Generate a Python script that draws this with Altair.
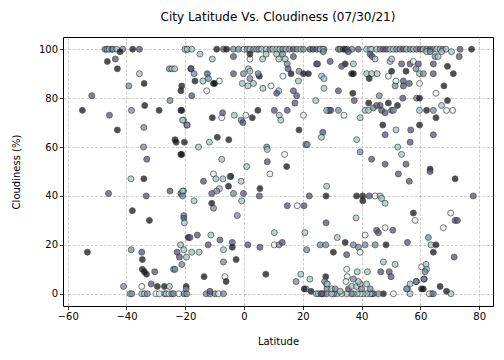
import altair as alt
import pandas as pd

TITLE = "City Latitude Vs. Cloudiness (07/30/21)"
X_TICKS = [-60, -40, -20, 0, 20, 40, 60, 80]
Y_TICKS = [0, 20, 40, 60, 80, 100]
SHADES = {"d": 0.08, "s": 0.38, "m": 0.55, "l": 0.74, "w": 0.93}

# (latitude, cloudiness, shade), by region
SOUTH = [
    (-47.3,100,"m"),(-46.7,100,"m"),(-45.9,100,"l"),(-45,100,"m"),(-44.6,100,"m"),(-43.3,100,"l"),
    (-41.3,100,"m"),(-37.9,100,"d"),(-35.6,100,"s"),
    (-46.5,95,"d"),(-43.8,96,"s"),(-42.2,99,"d"),(-43.1,92,"d"),(-35.6,90,"l"),(-34,86,"d"),
    (-39.2,85,"m"),(-51.8,81,"s"),(-55,75,"d"),(-45.8,73,"s"),(-38.3,75,"m"),(-33.8,77,"d"),
    (-28.9,75,"d"),(-43.1,67,"d"),(-34.1,68,"m"),(-34.2,60,"m"),(-33.1,55,"s"),(-25.2,79,"m"),
    (-21.5,83,"d"),(-21.5,75,"s"),(-20.6,71,"l"),(-19.5,69,"m"),(-23.5,63,"d"),(-23.1,62,"d"),
    (-20.3,62,"d"),(-21.5,57,"d"),(-25.4,92,"m"),(-24.5,92,"l"),(-23.6,92,"l"),(-19.5,100,"w"),
    (-18.1,92,"s"),
    (-38.5,47,"l"),(-34.1,47,"d"),(-46.1,41,"s"),(-33.3,40,"s"),(-25.2,42,"s"),(-21.5,41,"s"),
    (-20.6,42,"l"),(-38,34,"d"),(-32.2,30,"d"),(-20.5,32,"m"),(-20.5,31,"s"),(-20.3,29,"l"),
    (-53.3,17,"d"),(-38.4,18,"m"),(-34.8,17,"s"),(-34.6,14,"d"),(-34.6,10,"d"),(-33.9,9,"d"),
    (-33.2,8,"d"),(-30.4,9,"s"),(-31.6,4,"s"),(-29.5,3,"d"),(-27.1,3,"d"),(-41,3,"m"),
    (-21.6,20,"l"),(-22.8,17,"s"),(-22,15,"s"),(-21.2,12,"m"),(-20.5,18,"l"),(-19.6,15,"l"),
    (-24,10,"m"),(-19,23,"d"),(-23.5,10,"m"),(-25.4,3,"l"),(-34.8,3,"w"),(-19.7,3,"d"),(-19.7,2,"m"),
    (-38.8,0,"l"),(-38.2,0,"m"),(-34.8,0,"l"),(-33.9,0,"l"),(-32.9,0,"m"),(-30,0,"w"),(-28.8,0,"w"),
    (-27,0,"l"),(-26.5,0,"l"),(-25.5,0,"w"),(-24.6,0,"m"),(-24,0,"m"),(-22.2,0,"w"),(-20.4,0,"m"),
    (-19.5,0,"m"),
]

MIDDLE = [
    (-20.1,100,"l"),(-19.3,100,"l"),(-17.8,100,"l"),(-9.3,100,"d"),(-7,100,"s"),(-5.9,100,"d"),
    (-3.6,100,"m"),(-1.9,100,"m"),(0,100,"w"),(1,100,"m"),(2,100,"l"),(3.2,100,"m"),(4.3,100,"l"),
    (5,100,"m"),(6,100,"l"),(7.5,100,"l"),(8.8,100,"m"),(9.8,100,"l"),(11.1,100,"l"),(12.2,100,"l"),
    (13.2,100,"m"),(14.3,100,"l"),(15.4,100,"m"),(16.8,100,"s"),(18,100,"m"),(19.3,100,"l"),
    (20.2,100,"m"),(22.4,100,"s"),(23.5,100,"s"),(24.7,100,"s"),(26.4,100,"l"),(27.2,100,"l"),
    (-15,98,"l"),(-3.6,97,"s"),(2,96,"w"),(6.3,96,"l"),(7.5,98,"l"),(11.1,98,"l"),(11.8,96,"l"),
    (13.1,98,"m"),(14,96,"l"),(14.7,94,"m"),(16.8,97,"s"),(24.7,94,"s"),(-10.8,96,"l"),(2,98,"d"),
    (-18,92,"s"),(-17,90,"m"),(-16.7,87,"d"),(-14,87,"l"),(-12.5,90,"s"),(-12.1,88,"m"),
    (-10.4,86,"d"),(-10,86,"d"),(-8.4,87,"w"),(-12.7,83,"w"),(-17.8,81,"s"),(-21.2,85,"d"),
    (-3.6,90,"s"),(-0.2,90,"m"),(1.5,92,"l"),(2,91,"l"),(-0.6,86,"l"),(1.3,85,"l"),(2,88,"m"),
    (3.2,86,"l"),(5.2,89,"d"),(4.8,90,"m"),(6.4,84,"l"),(9.2,85,"w"),(11.8,83,"l"),(11.1,82,"s"),
    (13.2,89,"w"),(15,92,"s"),(16,90,"d"),(16.8,83,"s"),(17.9,81,"s"),(17.3,78,"s"),(18.7,91,"m"),
    (20.2,90,"d"),(21.9,90,"d"),(18.5,87,"l"),(24.4,79,"l"),(25,94,"s"),(26.4,89,"l"),(27.2,88,"l"),
    (27.2,84,"l"),(28.7,75,"s"),(-21.2,75,"d"),(-20.9,71,"l"),(-19.3,69,"m"),(-10.8,72,"d"),
    (-7.6,72,"w"),(-7.3,74,"s"),(-3.3,73,"l"),(-1,71,"m"),(-0.4,70,"s"),(0.6,73,"w"),(2.8,72,"d"),
    (4.7,75,"d"),(10.3,75,"s"),(12,73,"l"),(12.5,71,"l"),(14.7,75,"s"),(20.2,73,"w"),(29,75,"m"),
    (-9.1,64,"d"),(-5.2,63,"d"),(-11.8,62,"l"),(-15.5,60,"l"),(7.7,60,"m"),(7.9,59,"l"),
    (18.7,67,"d"),(26.8,66,"s"),(26.3,64,"l"),(21,61,"m"),(21.5,61,"m"),(-21.2,57,"d"),
    (-7.6,55,"l"),(7.9,54,"s"),(13.8,57,"w"),(0.9,52,"l"),(14.5,52,"d"),
    (8.8,49,"w"),(-10.4,49,"w"),(-9.6,47,"l"),(-7.2,47,"l"),(-4.8,48,"w"),(-4.5,48,"d"),(-1,46,"l"),
    (-13.8,46,"s"),(-5.3,44,"d"),(-8.4,43,"l"),(-9.3,42,"m"),(5.4,43,"d"),(5.2,40,"s"),(-11,41,"s"),
    (-3.6,41,"m"),(-0.2,41,"s"),(-11,37,"d"),(-10.4,35,"m"),(-0.8,38,"l"),(-17,38,"l"),
    (-20.9,42,"l"),(-20.9,40,"m"),(-2.3,32,"m"),(14.7,36,"s"),(18.1,36,"w"),(20.4,36,"s"),
    (27.9,40,"d"),(28.1,44,"l"),(22.2,40,"s"),(27.9,29,"s"),(20.7,25,"l"),(10.3,25,"l"),
    (-18.4,23,"s"),(-15.9,24,"s"),(-11.3,24,"l"),(-8.2,22,"s"),(-4,21,"s"),(-4,19,"d"),(1.3,20,"s"),
    (5.4,19,"s"),(10.3,20,"w"),(11.9,20,"m"),(13,21,"s"),(-17.8,17,"l"),(-15.3,17,"l"),
    (-12.2,20,"s"),(-7,18,"l"),(-7,13,"m"),(-2.7,14,"d"),(21.3,18,"m"),(25.9,20,"m"),(27.8,20,"m"),
    (-13.6,7,"d"),(-6.5,7,"w"),(-6.1,5,"d"),(7.4,8,"d"),(17.7,5,"m"),(19.3,8,"l"),(22.4,6,"l"),
    (27.8,7,"d"),(28.1,4,"l"),(21.1,2,"l"),(22.8,1,"d"),(28.2,2,"m"),(20.5,2,"d"),(27.4,5,"m"),
    (-12.9,0,"m"),(-11.6,0,"m"),(-9.9,0,"m"),(-8.7,0,"w"),(-7,0,"m"),(-11.6,1,"s"),
    (24.6,0,"l"),(25.3,0,"l"),(26.2,0,"m"),(27,0,"m"),(28.1,0,"m"),
]

NORTH = [
    (25.9,100,"l"),(26.9,100,"l"),(32.1,100,"m"),(32.7,100,"m"),(33.8,100,"s"),(34.4,100,"d"),
    (35.1,100,"s"),(36.7,100,"m"),(38.9,100,"s"),(41.7,100,"l"),(42.9,100,"w"),(43.4,100,"l"),
    (45.1,100,"l"),(46.3,100,"m"),(47.4,100,"s"),(48.5,100,"s"),(49.7,100,"l"),(50.8,100,"l"),
    (51.9,100,"m"),(53.1,100,"m"),(54.2,100,"s"),(55.3,100,"l"),(56.5,100,"m"),(57.6,100,"l"),
    (58.7,100,"m"),(59.9,100,"s"),(61,100,"l"),(62.1,100,"m"),(63.3,100,"s"),(64.4,100,"m"),
    (65.5,100,"l"),(66.7,100,"l"),(67.7,100,"m"),(68.7,100,"l"),(73.5,100,"s"),(77.4,100,"d"),
    (27,99,"m"),(35.5,99,"s"),(42.9,98,"s"),(43.6,97,"s"),(62.1,99,"l"),(63.3,99,"m"),(65,97,"m"),
    (66,97,"l"),(67.2,99,"l"),(70.6,99,"l"),(73.2,97,"s"),(44.6,96,"l"),(37.2,94,"l"),(34.4,94,"d"),
    (29.3,95,"s"),(33.2,93,"s"),(49.7,95,"l"),(50.2,96,"l"),(53.6,94,"s"),(56.5,94,"s"),
    (57.6,95,"w"),(59.3,94,"s"),(64.4,94,"s"),(69.2,93,"d"),(71.2,90,"d"),(36.6,90,"d"),
    (37.2,90,"d"),(41.7,90,"l"),(43.4,90,"l"),(45.3,90,"l"),(42.6,88,"d"),(49.1,89,"w"),
    (50.2,91,"d"),(51.7,87,"w"),(54.2,87,"s"),(56.2,86,"s"),(51.4,85,"m"),(54.2,85,"s"),
    (55.1,91,"d"),(58.5,92,"m"),(59.7,90,"l"),(61,90,"m"),(59.7,86,"w"),(64.4,90,"s"),(68,85,"d"),
    (65.3,82,"w"),(32.1,83,"s"),(37,82,"d"),(37.5,79,"s"),(46,81,"m"),(42.4,78,"d"),(46.3,77,"s"),
    (49.1,78,"d"),(52.2,77,"d"),(54,80,"s"),(58.7,80,"m"),(59.7,80,"d"),(69.2,79,"d"),(67.2,77,"l"),
    (28.1,75,"l"),(29.5,75,"s"),(32.1,75,"m"),(34,73,"w"),(39.5,72,"l"),(41.2,75,"l"),(42.3,75,"l"),
    (44,76,"m"),(45.1,77,"s"),(46.8,75,"s"),(48,74,"s"),(50.2,75,"s"),(50.8,75,"m"),(59.7,75,"l"),
    (62.1,75,"d"),(64.4,75,"m"),(65.3,72,"d"),(68.9,75,"w"),(71,75,"w"),(47.2,69,"d"),(51.7,67,"l"),
    (56.7,67,"s"),(59.7,69,"d"),(48,65,"s"),(38.3,63,"l"),(56.5,62,"s"),(64.4,65,"s"),(52.3,60,"l"),
    (53.6,57,"l"),(39.5,58,"m"),(43.4,55,"s"),(48,53,"s"),(55.1,53,"s"),(63.3,51,"d"),
    (52.5,49,"s"),(56.2,46,"s"),(63.3,50,"s"),(71.8,47,"d"),(38.3,40,"d"),(40.4,40,"d"),
    (42.6,40,"s"),(44.6,40,"w"),(46.3,40,"l"),(46.8,39,"l"),(48,37,"l"),(40.4,38,"d"),(78,40,"s"),
    (38.1,31,"l"),(57.6,33,"d"),(58.2,30,"w"),(70.3,33,"w"),(71.8,30,"s"),(72.6,30,"s"),
    (67.8,27,"w"),(48,27,"w"),(45.1,26,"s"),(45.7,25,"s"),(50.6,26,"s"),(41.2,24,"w"),(31.7,23,"l"),
    (34.4,21,"d"),(37.2,20,"m"),(38.9,19,"m"),(39.5,17,"w"),(41.2,20,"m"),(44.6,20,"m"),
    (48.3,20,"d"),(30.4,17,"d"),(34.9,16,"s"),(55.6,21,"s"),(62.7,23,"m"),(63.6,20,"l"),
    (65.3,20,"d"),(64.4,17,"d"),(71.5,15,"s"),(47.4,13,"l"),(51.4,12,"l"),(46.5,9,"s"),(49.4,9,"s"),
    (50,7,"s"),(42,9,"l"),(38.5,9,"l"),(34.9,10,"w"),(35.1,7,"w"),(60.4,11,"w"),(61.9,12,"l"),
    (62.1,10,"l"),(61.3,6,"s"),(58.7,5,"s"),(56.5,4,"l"),(55.6,2,"l"),(60.4,2,"d"),(66.7,3,"d"),
    (68.9,1,"d"),(70.4,0,"l"),(63.8,0,"d"),(63,0,"w"),(56.5,0,"l"),(50.8,0,"w"),(47.4,0,"d"),
    (45.7,0,"m"),(44,0,"m"),(43.5,0,"m"),(42.9,0,"l"),(41.7,0,"l"),(40.5,0,"l"),(39.5,0,"w"),
    (38.5,0,"l"),(37.2,0,"l"),(36.5,0,"m"),(34.9,0,"l"),(33.2,0,"l"),(31.5,0,"l"),(30.5,0,"m"),
    (29.8,0,"l"),(26.4,0,"s"),
    (28.3,4,"l"),(29.8,2,"l"),(31,2,"m"),(32.7,1,"l"),(35.5,2,"s"),(36.6,3,"l"),(38.3,3,"l"),
    (39.5,4,"l"),(38.9,5,"l"),(41.7,4,"l"),(42.9,2,"m"),(40,2,"m"),(34.7,5,"w"),(37.2,6,"m"),
    (55.3,2,"m"),(58.5,5,"m"),(61.6,9,"m"),(61.2,6,"m"),(61,2,"d"),(64.4,0,"m"),
]

rows = []
for group in (SOUTH, MIDDLE, NORTH):
    for lat, cloud, shade in group:
        rows.append({"Latitude": lat, "Cloudiness": cloud, "shade": SHADES[shade]})
df = pd.DataFrame(rows)

chart = alt.Chart(df).mark_circle(
    size=36, opacity=0.75, stroke="#222222", strokeWidth=0.8
).encode(
    x=alt.X("Latitude:Q", title="Latitude",
            scale=alt.Scale(domain=[-61.6, 84.7], nice=False, zero=False),
            axis=alt.Axis(values=X_TICKS, titlePadding=15)),
    y=alt.Y("Cloudiness:Q", title="Cloudiness (%)",
            scale=alt.Scale(domain=[-5, 105], nice=False, zero=False),
            axis=alt.Axis(values=Y_TICKS, titlePadding=17)),
    color=alt.Color("shade:Q", legend=None,
                    scale=alt.Scale(domain=[0, 0.365, 0.746, 1],
                                    range=["#000000", "#515171", "#a6c6c6", "#ffffff"],
                                    interpolate="rgb")),
).properties(
    width=430, height=269,
    title=alt.TitleParams(TITLE, fontSize=12, font="DejaVu Sans", fontWeight="normal",
                          color="black", anchor="middle", frame="group", offset=13),
    autosize=alt.AutoSizeParams(type="none"),
    padding={"left": 55, "top": 29, "right": 3, "bottom": 46},
).configure_view(
    stroke="black", strokeWidth=1
).configure_axis(
    domain=False, grid=True, gridDash=[3, 1.5], gridColor="#b0b0b0", gridWidth=0.6,
    tickColor="black", tickSize=3.5, tickWidth=0.8,
    labelFont="DejaVu Sans", labelFontSize=10, labelColor="black",
    titleFont="DejaVu Sans", titleFontSize=10, titleFontWeight="normal", titleColor="black",
)

chart.save("out.html", embed_options={"renderer": "svg", "actions": False})
